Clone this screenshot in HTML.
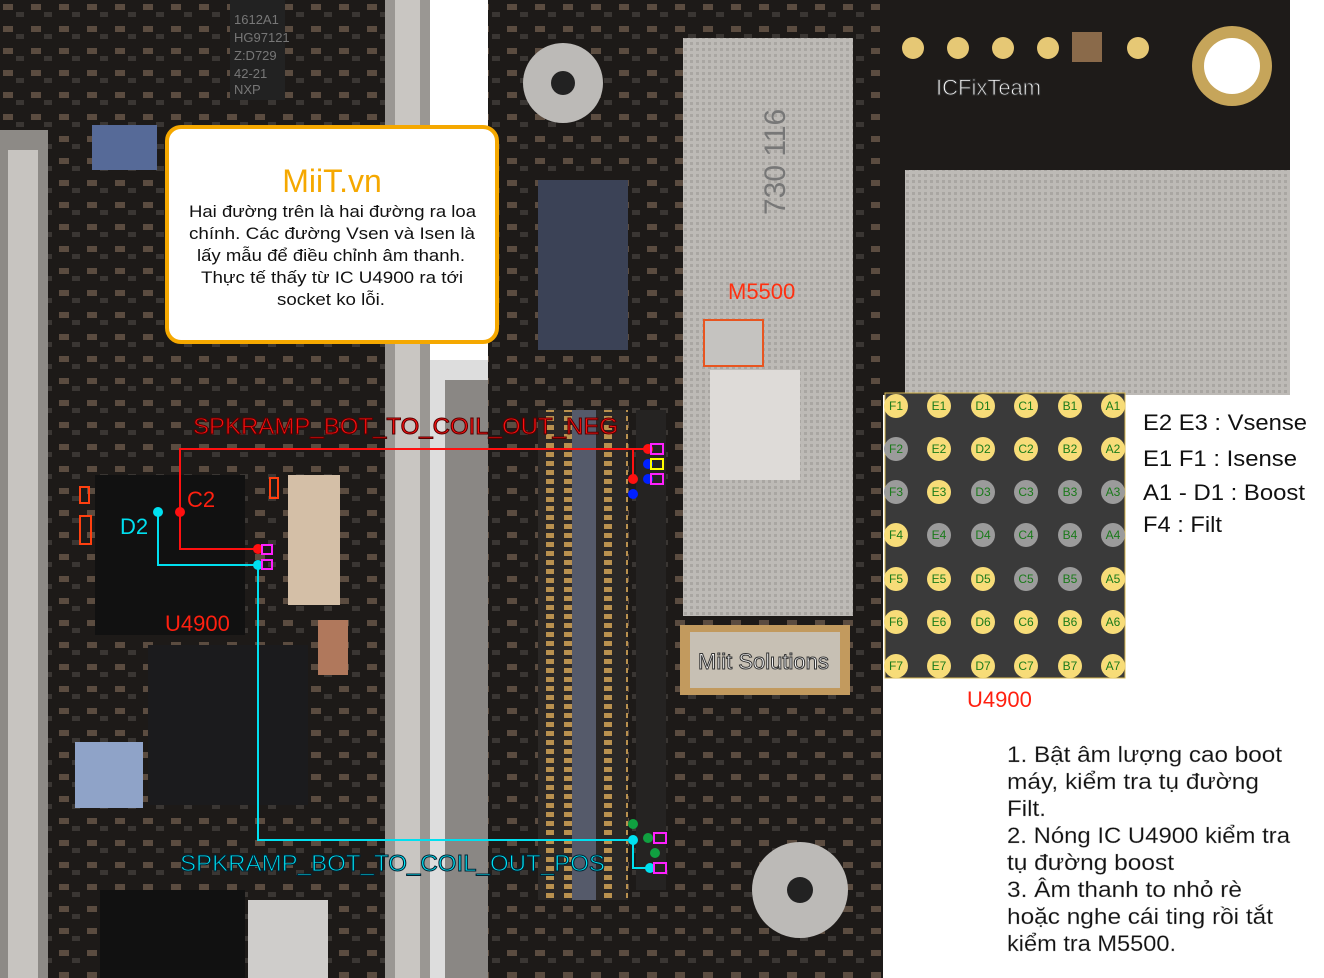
<!DOCTYPE html>
<html><head><meta charset="utf-8"><style>
html,body{margin:0;padding:0;background:#fff}
svg{display:block}
text{font-family:"Liberation Sans","DejaVu Sans",sans-serif}
</style></head><body>
<svg width="1324" height="978" viewBox="0 0 1324 978" xmlns="http://www.w3.org/2000/svg">
<defs>
<pattern id="pcb" width="28" height="22" patternUnits="userSpaceOnUse">
<rect width="28" height="22" fill="#1d1a18"/>
<rect x="3" y="4" width="10" height="6" fill="#5b4c40"/>
<rect x="16" y="12" width="8" height="5" fill="#3a3633"/>
</pattern>
<pattern id="shield" width="6" height="6" patternUnits="userSpaceOnUse">
<rect width="6" height="6" fill="#bdbab6"/>
<rect x="0" y="0" width="3" height="3" fill="#a9a6a2"/>
</pattern>
<pattern id="conn" width="40" height="9" patternUnits="userSpaceOnUse">
<rect width="40" height="9" fill="#2b2826"/>
<rect x="4" y="2" width="8" height="5" fill="#b9914f"/>
<rect x="26" y="2" width="8" height="5" fill="#b9914f"/>
</pattern>
</defs>
<rect width="1324" height="978" fill="#fff"/>
<!-- left board -->
<rect x="0" y="0" width="430" height="978" fill="url(#pcb)"/>
<rect x="0" y="130" width="48" height="848" fill="#8d8a86"/>
<rect x="8" y="150" width="30" height="828" fill="#c7c4c0"/>
<rect x="385" y="0" width="45" height="978" fill="#9a9793"/>
<rect x="395" y="0" width="25" height="978" fill="#c9c6c2"/>
<rect x="230" y="0" width="55" height="100" fill="#222"/>
<text x="234" y="24" font-size="13" fill="#777">1612A1</text>
<text x="234" y="42" font-size="13" fill="#777">HG97121</text>
<text x="234" y="60" font-size="13" fill="#777">Z:D729</text>
<text x="234" y="78" font-size="13" fill="#777">42-21</text>
<text x="234" y="94" font-size="13" fill="#777">NXP</text>
<rect x="92" y="125" width="65" height="45" fill="#566a98"/>
<rect x="95" y="475" width="150" height="160" fill="#111"/>
<rect x="148" y="645" width="160" height="160" fill="#1b1b1d"/>
<rect x="75" y="742" width="68" height="66" fill="#8fa3c8"/>
<rect x="100" y="890" width="145" height="88" fill="#111"/>
<rect x="248" y="900" width="80" height="78" fill="#cfcdcb"/>
<rect x="288" y="475" width="52" height="130" fill="#d4bfa7"/>
<rect x="318" y="620" width="30" height="55" fill="#b0785c"/>
<!-- white gap -->
<rect x="430" y="0" width="60" height="978" fill="#fff"/>
<rect x="430" y="360" width="60" height="618" fill="#ddd"/>
<rect x="445" y="380" width="45" height="598" fill="#8a8784"/>
<!-- center board -->
<rect x="488" y="0" width="395" height="978" fill="url(#pcb)"/>
<rect x="683" y="38" width="170" height="578" fill="url(#shield)"/>
<text x="730" y="240" font-size="30" fill="#777" transform="rotate(-90 745 200)">730 116</text>
<rect x="710" y="370" width="90" height="110" fill="#dedbd8"/>
<circle cx="563" cy="83" r="40" fill="#bcbab7"/><circle cx="563" cy="83" r="12" fill="#222"/>
<circle cx="800" cy="890" r="48" fill="#bcbab7"/><circle cx="800" cy="890" r="13" fill="#222"/>
<rect x="538" y="180" width="90" height="170" fill="#3b4256"/>
<rect x="538" y="410" width="90" height="490" fill="url(#conn)"/>
<rect x="572" y="410" width="24" height="490" fill="#555a6a"/>
<rect x="636" y="410" width="30" height="480" fill="#252322"/>
<rect x="680" y="625" width="170" height="70" fill="#c29a5e"/>
<rect x="690" y="632" width="150" height="56" fill="#c7c0b4"/>
<text x="698" y="669" font-size="22" fill="#fff" stroke="#333" stroke-width="1">Miit Solutions</text>
<rect x="704" y="320" width="59" height="46" fill="#c5c3c0" stroke="#e85520" stroke-width="2"/>
<text x="728" y="299" font-size="22" fill="#ff3010">M5500</text>
<!-- right top board -->
<rect x="880" y="0" width="410" height="395" fill="#1e1b19"/>
<rect x="905" y="170" width="385" height="225" fill="url(#shield)"/>
<circle cx="1232" cy="66" r="40" fill="#c6a55a"/><circle cx="1232" cy="66" r="28" fill="#fff"/>
<g fill="#e6c875"><circle cx="913" cy="48" r="11"/><circle cx="958" cy="48" r="11"/><circle cx="1003" cy="48" r="11"/><circle cx="1048" cy="48" r="11"/><circle cx="1138" cy="48" r="11"/></g>
<rect x="1072" y="32" width="30" height="30" fill="#8a6a4a"/>
<text x="936" y="95" font-size="22" fill="#fff" stroke="#333" stroke-width="1">ICFixTeam</text>
<!-- callout -->
<rect x="167" y="127" width="330" height="215" rx="14" fill="#fff" stroke="#f5a800" stroke-width="4"/>
<text x="332" y="192" font-size="32" fill="#f5a800" text-anchor="middle">MiiT.vn</text>
<g font-size="17" fill="#111">
<text x="189" y="217" textLength="287" lengthAdjust="spacingAndGlyphs">Hai đường trên là hai đường ra loa</text>
<text x="189" y="239" textLength="286" lengthAdjust="spacingAndGlyphs">chính. Các đường Vsen và Isen là</text>
<text x="197" y="261" textLength="268" lengthAdjust="spacingAndGlyphs">lấy mẫu để điều chỉnh âm thanh.</text>
<text x="201" y="283" textLength="262" lengthAdjust="spacingAndGlyphs">Thực tế thấy từ IC U4900 ra tới</text>
<text x="277" y="305" textLength="108" lengthAdjust="spacingAndGlyphs">socket ko lỗi.</text>
</g>
<!-- traces -->
<polyline points="648,449 180,449 180,549 258,549" fill="none" stroke="#ff1010" stroke-width="2"/>
<line x1="633" y1="449" x2="633" y2="479" stroke="#ff1010" stroke-width="2"/>
<polyline points="158,512 158,565 258,565 258,840 633,840 633,868 650,868" fill="none" stroke="#00e0f0" stroke-width="2"/>
<g><circle cx="180" cy="512" r="5" fill="#ff1010"/><circle cx="158" cy="512" r="5" fill="#00e0f0"/>
<circle cx="258" cy="549" r="5" fill="#ff1010"/><circle cx="258" cy="565" r="5" fill="#00e0f0"/>
<circle cx="648" cy="449" r="5" fill="#ff1010"/><circle cx="633" cy="479" r="5" fill="#ff1010"/>
<circle cx="648" cy="464" r="5" fill="#0020ff"/><circle cx="648" cy="479" r="5" fill="#0020ff"/><circle cx="633" cy="494" r="5" fill="#0020ff"/>
<circle cx="633" cy="840" r="5" fill="#00e0f0"/><circle cx="650" cy="868" r="5" fill="#00e0f0"/>
<circle cx="633" cy="824" r="5" fill="#10a040"/><circle cx="648" cy="838" r="5" fill="#10a040"/><circle cx="655" cy="853" r="5" fill="#10a040"/></g>
<g fill="none" stroke="#ff20ff" stroke-width="2"><rect x="651" y="444" width="12" height="10"/><rect x="651" y="474" width="12" height="10"/><rect x="262" y="545" width="10" height="9"/><rect x="262" y="560" width="10" height="9"/><rect x="654" y="833" width="12" height="10"/><rect x="654" y="863" width="12" height="10"/></g>
<rect x="651" y="459" width="12" height="10" fill="none" stroke="#ffff00" stroke-width="2"/>
<rect x="270" y="478" width="8" height="20" fill="none" stroke="#ff4010" stroke-width="2"/>
<rect x="80" y="487" width="9" height="16" fill="none" stroke="#ff4010" stroke-width="2"/>
<rect x="80" y="516" width="11" height="28" fill="none" stroke="#ff4010" stroke-width="2"/>
<text x="193" y="434" font-size="23" fill="#ff1010" stroke="#500" stroke-width="1" textLength="425" lengthAdjust="spacingAndGlyphs">SPKRAMP_BOT_TO_COIL_OUT_NEG</text>
<text x="180" y="871" font-size="23" fill="#00e8f8" stroke="#023" stroke-width="1" textLength="425" lengthAdjust="spacingAndGlyphs">SPKRAMP_BOT_TO_COIL_OUT_POS</text>
<text x="187" y="507" font-size="22" fill="#ff2010">C2</text>
<text x="120" y="534" font-size="22" fill="#00e0f0">D2</text>
<text x="165" y="631" font-size="22" fill="#ff2010">U4900</text>
<!-- BGA -->
<rect x="885" y="393" width="240" height="285" fill="#3a3a3a" stroke="#d8b850" stroke-width="1"/>
<text x="967" y="707" font-size="22" fill="#ff2010">U4900</text>
<g font-size="22" fill="#111">
<text x="1143" y="430" textLength="164" lengthAdjust="spacingAndGlyphs">E2 E3 : Vsense</text>
<text x="1143" y="466" textLength="154" lengthAdjust="spacingAndGlyphs">E1 F1 : Isense</text>
<text x="1143" y="500" textLength="162" lengthAdjust="spacingAndGlyphs">A1 - D1 : Boost</text>
<text x="1143" y="532" textLength="79" lengthAdjust="spacingAndGlyphs">F4 : Filt</text>
</g>
<g font-size="22" fill="#111" stroke="#aaa" stroke-width="0.3">
<text x="1007" y="762" textLength="275" lengthAdjust="spacingAndGlyphs">1. Bật âm lượng cao boot</text>
<text x="1007" y="789" textLength="252" lengthAdjust="spacingAndGlyphs">máy, kiểm tra tụ đường</text>
<text x="1007" y="816" textLength="39" lengthAdjust="spacingAndGlyphs">Filt.</text>
<text x="1007" y="843" textLength="283" lengthAdjust="spacingAndGlyphs">2. Nóng IC U4900 kiểm tra</text>
<text x="1007" y="870" textLength="167" lengthAdjust="spacingAndGlyphs">tụ đường boost</text>
<text x="1007" y="897" textLength="235" lengthAdjust="spacingAndGlyphs">3. Âm thanh to nhỏ rè</text>
<text x="1007" y="924" textLength="266" lengthAdjust="spacingAndGlyphs">hoặc nghe cái ting rồi tắt</text>
<text x="1007" y="951" textLength="169" lengthAdjust="spacingAndGlyphs">kiểm tra M5500.</text>
</g>
<!-- balls -->
<g font-size="12" fill="#1a7a1a" text-anchor="middle">
<circle cx="896" cy="406" r="12" fill="#f7dc78"/><text x="896" y="410">F1</text>
<circle cx="939" cy="406" r="12" fill="#f7dc78"/><text x="939" y="410">E1</text>
<circle cx="983" cy="406" r="12" fill="#f7dc78"/><text x="983" y="410">D1</text>
<circle cx="1026" cy="406" r="12" fill="#f7dc78"/><text x="1026" y="410">C1</text>
<circle cx="1070" cy="406" r="12" fill="#f7dc78"/><text x="1070" y="410">B1</text>
<circle cx="1113" cy="406" r="12" fill="#f7dc78"/><text x="1113" y="410">A1</text>
<circle cx="896" cy="449" r="12" fill="#9b9b9b"/><text x="896" y="453">F2</text>
<circle cx="939" cy="449" r="12" fill="#f7dc78"/><text x="939" y="453">E2</text>
<circle cx="983" cy="449" r="12" fill="#f7dc78"/><text x="983" y="453">D2</text>
<circle cx="1026" cy="449" r="12" fill="#f7dc78"/><text x="1026" y="453">C2</text>
<circle cx="1070" cy="449" r="12" fill="#f7dc78"/><text x="1070" y="453">B2</text>
<circle cx="1113" cy="449" r="12" fill="#f7dc78"/><text x="1113" y="453">A2</text>
<circle cx="896" cy="492" r="12" fill="#9b9b9b"/><text x="896" y="496">F3</text>
<circle cx="939" cy="492" r="12" fill="#f7dc78"/><text x="939" y="496">E3</text>
<circle cx="983" cy="492" r="12" fill="#9b9b9b"/><text x="983" y="496">D3</text>
<circle cx="1026" cy="492" r="12" fill="#9b9b9b"/><text x="1026" y="496">C3</text>
<circle cx="1070" cy="492" r="12" fill="#9b9b9b"/><text x="1070" y="496">B3</text>
<circle cx="1113" cy="492" r="12" fill="#9b9b9b"/><text x="1113" y="496">A3</text>
<circle cx="896" cy="535" r="12" fill="#f7dc78"/><text x="896" y="539">F4</text>
<circle cx="939" cy="535" r="12" fill="#9b9b9b"/><text x="939" y="539">E4</text>
<circle cx="983" cy="535" r="12" fill="#9b9b9b"/><text x="983" y="539">D4</text>
<circle cx="1026" cy="535" r="12" fill="#9b9b9b"/><text x="1026" y="539">C4</text>
<circle cx="1070" cy="535" r="12" fill="#9b9b9b"/><text x="1070" y="539">B4</text>
<circle cx="1113" cy="535" r="12" fill="#9b9b9b"/><text x="1113" y="539">A4</text>
<circle cx="896" cy="579" r="12" fill="#f7dc78"/><text x="896" y="583">F5</text>
<circle cx="939" cy="579" r="12" fill="#f7dc78"/><text x="939" y="583">E5</text>
<circle cx="983" cy="579" r="12" fill="#f7dc78"/><text x="983" y="583">D5</text>
<circle cx="1026" cy="579" r="12" fill="#9b9b9b"/><text x="1026" y="583">C5</text>
<circle cx="1070" cy="579" r="12" fill="#9b9b9b"/><text x="1070" y="583">B5</text>
<circle cx="1113" cy="579" r="12" fill="#f7dc78"/><text x="1113" y="583">A5</text>
<circle cx="896" cy="622" r="12" fill="#f7dc78"/><text x="896" y="626">F6</text>
<circle cx="939" cy="622" r="12" fill="#f7dc78"/><text x="939" y="626">E6</text>
<circle cx="983" cy="622" r="12" fill="#f7dc78"/><text x="983" y="626">D6</text>
<circle cx="1026" cy="622" r="12" fill="#f7dc78"/><text x="1026" y="626">C6</text>
<circle cx="1070" cy="622" r="12" fill="#f7dc78"/><text x="1070" y="626">B6</text>
<circle cx="1113" cy="622" r="12" fill="#f7dc78"/><text x="1113" y="626">A6</text>
<circle cx="896" cy="666" r="12" fill="#f7dc78"/><text x="896" y="670">F7</text>
<circle cx="939" cy="666" r="12" fill="#f7dc78"/><text x="939" y="670">E7</text>
<circle cx="983" cy="666" r="12" fill="#f7dc78"/><text x="983" y="670">D7</text>
<circle cx="1026" cy="666" r="12" fill="#f7dc78"/><text x="1026" y="670">C7</text>
<circle cx="1070" cy="666" r="12" fill="#f7dc78"/><text x="1070" y="670">B7</text>
<circle cx="1113" cy="666" r="12" fill="#f7dc78"/><text x="1113" y="670">A7</text>
</g>
</svg>
</body></html>
